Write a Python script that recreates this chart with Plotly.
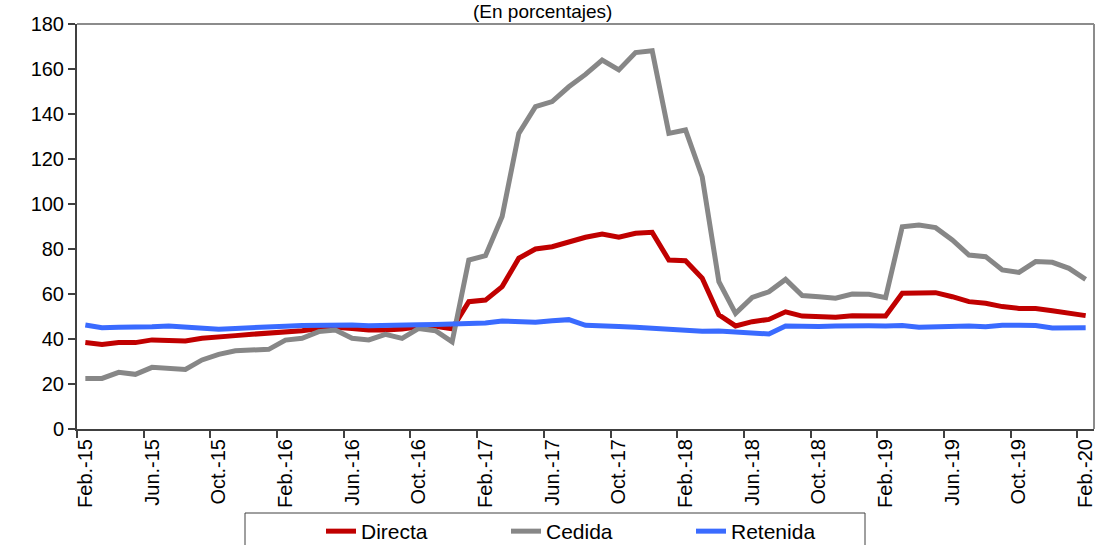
import plotly.graph_objects as go

# ---- data -------------------------------------------------------------
month_abbr = ["Ene.", "Feb.", "Mar.", "Abr.", "May.", "Jun.",
              "Jul.", "Ago.", "Sep.", "Oct.", "Nov.", "Dic."]
start_year = 2015
start_month = 2          # February 2015
n_months = 61            # Feb-15 .. Feb-20

months = []
for k in range(n_months):
    m = (start_month - 1 + k) % 12
    y = start_year + (start_month - 1 + k) // 12
    months.append(f"{month_abbr[m]}-{str(y)[2:]}")

directa = [38.4, 37.6, 38.4, 38.4, 39.6, 39.3, 39.1, 40.3, 40.7, 41.5,
           42.1, 42.5, 43.0, 43.7, 44.7, 45.2, 44.7, 44.0, 44.0, 44.4,
           45.4, 45.7, 44.5, 56.6, 57.3, 63.3, 75.9, 80.0, 81.0, 83.3,
           85.2, 86.7, 85.2, 87.0, 87.4, 75.1, 74.8, 67.0, 50.7, 45.8,
           47.7, 48.7, 52.1, 50.2, 49.9, 49.7, 50.3, 50.4, 50.2, 60.3,
           60.3, 60.6, 58.8, 56.6, 55.9, 54.4, 53.6, 53.6, 52.6, 51.7,
           50.4]

cedida = [22.5, 22.5, 25.2, 24.3, 27.4, 26.7, 26.5, 30.7, 33.2, 34.8,
          35.1, 35.4, 39.5, 40.3, 43.3, 44.0, 40.3, 39.6, 42.1, 40.3,
          44.7, 43.7, 38.7, 75.1, 77.0, 94.4, 131.4, 143.3, 145.5, 152.1,
          157.6, 164.0, 159.6, 167.3, 168.1, 131.4, 132.9, 112.1, 65.5, 51.4,
          58.5, 61.0, 66.5, 59.3, 58.8, 58.1, 60.0, 59.9, 58.4, 89.9,
          90.7, 89.5, 84.0, 77.3, 76.6, 70.7, 69.6, 74.4, 74.1, 71.4,
          66.5]

retenida = [46.2, 45.0, 45.2, 45.2, 45.4, 45.8, 45.4, 44.7, 44.3, 44.7,
            45.2, 45.4, 45.7, 46.0, 46.2, 46.2, 46.2, 45.9, 45.9, 46.0,
            46.3, 46.5, 46.8, 46.9, 47.1, 48.0, 47.7, 47.5, 48.1, 48.6,
            46.1, 46.1, 45.6, 45.2, 44.7, 44.3, 44.2, 43.4, 43.6, 43.1,
            42.2, 42.2, 45.8, 45.5, 45.6, 45.8, 46.1, 45.9, 45.8, 46.0,
            45.2, 45.5, 45.8, 45.8, 45.5, 46.1, 46.1, 46.0, 44.9, 45.0,
            45.0]

series_names = ["Directa", "Cedida", "Retenida"]
series_values = [directa, cedida, retenida]
series_colors = ["#C00000", "#878787", "#3A6BFF"]

title_text = "(En porcentajes)"
label_step = 4

# ---- figure -----------------------------------------------------------
x = list(range(len(months)))
label_pos = x[::label_step]
label_txt = months[::label_step]
boundary_pos = [p - 0.5 for p in label_pos]

FONT = "Liberation Sans, Arial, sans-serif"

# plot area in pixels: x 77..1094, y 24..429
L, R, T, B = 77, 1094, 24, 429
PW, PH = R - L, B - T


def px_x(v):
    return (v - L) / PW


def px_y(v):
    return (B - v) / PH


fig = go.Figure()
for name, vals, col in zip(series_names, series_values, series_colors):
    fig.add_trace(go.Scatter(
        x=x, y=vals, name=name, mode="lines",
        line=dict(color=col, width=5),
    ))

fig.update_layout(
    width=1104, height=545,
    margin=dict(l=L, r=1104 - R, t=T, b=545 - B, autoexpand=False),
    paper_bgcolor="white", plot_bgcolor="white",
    showlegend=True,
    legend=dict(
        orientation="h",
        x=px_x(321), xanchor="left",
        y=px_y(511), yanchor="top",
        font=dict(family=FONT, size=21, color="#000000"),
        bgcolor="rgba(0,0,0,0)",
        borderwidth=0,
        entrywidth=140, entrywidthmode="pixels",
        traceorder="normal",
    ),
    annotations=[dict(
        text=title_text, xref="paper", yref="paper",
        x=px_x(542), y=px_y(-1),
        xanchor="center", yanchor="top", showarrow=False,
        font=dict(family=FONT, size=19, color="#000000"),
    )],
    shapes=[
        dict(type="line", xref="paper", yref="paper", x0=0, x1=1, y0=1, y1=1,
             line=dict(color="#8c8c8c", width=2)),
        dict(type="line", xref="paper", yref="paper", x0=1, x1=1, y0=0, y1=1,
             line=dict(color="#8c8c8c", width=2)),
        dict(type="rect", xref="paper", yref="paper",
             x0=px_x(245), x1=px_x(865), y0=px_y(560), y1=px_y(513),
             line=dict(color="#404040", width=1), fillcolor="rgba(0,0,0,0)"),
    ],
)

fig.update_xaxes(
    range=[-0.5, len(months) - 0.5], automargin=False,
    tickmode="array", tickvals=label_pos, ticktext=label_txt,
    tickangle=-90, ticks="",
    tickfont=dict(family=FONT, size=20, color="#000000"),
    showline=True, linecolor="#404040", linewidth=2,
    showgrid=False, zeroline=False,
    minor=dict(tickmode="array", tickvals=boundary_pos, ticks="outside",
               ticklen=7, tickwidth=1.5, tickcolor="#404040", showgrid=False),
)
fig.update_yaxes(
    range=[0, 180], automargin=False,
    tickmode="linear", tick0=0, dtick=20,
    ticks="outside", ticklen=7, tickwidth=1.5, tickcolor="#404040",
    tickfont=dict(family=FONT, size=20, color="#000000"),
    showline=True, linecolor="#404040", linewidth=2,
    showgrid=False, zeroline=False,
)

fig.write_html(
    "out.html",
    config={"displayModeBar": False},
    post_script="document.body.style.margin='0';document.body.style.overflow='hidden';",
)
